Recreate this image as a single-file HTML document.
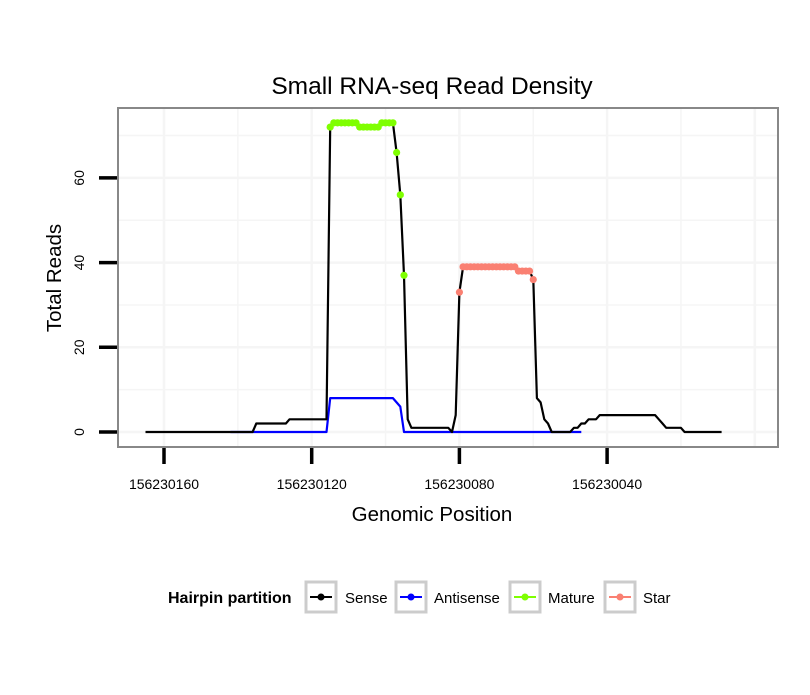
<!DOCTYPE html>
<html><head><meta charset="utf-8"><style>
body{margin:0;background:#fff;}
svg text{font-family:"Liberation Sans",sans-serif;}
</style></head><body>
<svg id="chart" width="810" height="690" xmlns="http://www.w3.org/2000/svg">
<rect width="810" height="690" fill="#fff"/>
<text x="432" y="94" font-size="24.5" text-anchor="middle">Small RNA-seq Read Density</text>
<g id="grid"></g>
<g id="series"></g>
<rect x="118" y="108" width="660" height="339" fill="none" stroke="#888" stroke-width="2"/>
<g id="axes"></g>
<text x="432" y="521" font-size="20.5" text-anchor="middle">Genomic Position</text>
<text x="61" y="278" font-size="20.5" text-anchor="middle" transform="rotate(-90 61 278)">Total Reads</text>
<g>
<text x="168" y="603" font-size="16" font-weight="bold">Hairpin partition</text>
<g>
<rect x="306" y="582" width="30" height="30" fill="#fff" stroke="#ccc" stroke-width="3"/>
<line x1="310" y1="597" x2="332" y2="597" stroke="#000" stroke-width="2"/><circle cx="321" cy="597" r="3.5" fill="#000"/>
<text x="345" y="603" font-size="15">Sense</text></g>
<g>
<rect x="396" y="582" width="30" height="30" fill="#fff" stroke="#ccc" stroke-width="3"/>
<line x1="400" y1="597" x2="422" y2="597" stroke="#00f" stroke-width="2"/><circle cx="411" cy="597" r="3.5" fill="#00f"/>
<text x="434" y="603" font-size="15">Antisense</text></g>
<g>
<rect x="510" y="582" width="30" height="30" fill="#fff" stroke="#ccc" stroke-width="3"/>
<line x1="514" y1="597" x2="536" y2="597" stroke="#7fff00" stroke-width="2"/><circle cx="525" cy="597" r="3.5" fill="#7fff00"/>
<text x="548" y="603" font-size="15">Mature</text></g>
<g>
<rect x="605" y="582" width="30" height="30" fill="#fff" stroke="#ccc" stroke-width="3"/>
<line x1="609" y1="597" x2="631" y2="597" stroke="#fa8072" stroke-width="2"/><circle cx="620" cy="597" r="3.5" fill="#fa8072"/>
<text x="643" y="603" font-size="15">Star</text></g>
</g>
</svg>
<script>
const startPos = 156230165;
const senseValues = [0,0,0,0,0,0,0,0,0,0,0,0,0,0,0,0,0,0,0,0,0,0,0,0,0,0,0,0,0,
0,2,2,2,2,2,2,2,2,2,3,3,3,3,3,3,3,3,3,3,3,
72,73,73,73,73,73,73,73,72,72,72,72,72,72,73,73,73,73,66,56,37,3,
1,1,1,1,1,1,1,1,1,1,1,0,4,33,
39,39,39,39,39,39,39,39,39,39,39,39,39,39,39,38,38,38,38,36,8,7,3,2,
0,0,0,0,0,0,1,1,2,2,3,3,3,
4,4,4,4,4,4,4,4,4,4,4,4,4,4,4,4,3,2,1,1,1,1,1,0,0,0,0,0,0,0,0,0,0,0];
const antiStartPos = 156230142;
const antisenseValues = [0,0,0,0,0,0,0,0,0,0,0,0,0,0,0,0,0,0,0,0,0,0,0,0,0,0,0,
8,8,8,8,8,8,8,8,8,8,8,8,8,8,8,8,8,8,7,6,
0,0,0,0,0,0,0,0,0,0,0,0,0,0,0,0,0,0,0,0,0,0,0,0,0,0,0,0,0,0,0,0,0,0,0,0,0,0,0,0,0,0,0,0,0,0,0,0,0];
const matureRange = [156230115, 156230095];
const starRange = [156230080, 156230060];
const xTicks = [156230160, 156230120, 156230080, 156230040];
const yTicks = [0, 20, 40, 60];

const NS = "http://www.w3.org/2000/svg";
const xScale = g => 164 + (156230160 - g) * 3.6925;
const yScale = v => 432 - v * 4.235;
function mk(tag, attrs, parent) { const e = document.createElementNS(NS, tag); for (const k in attrs) e.setAttribute(k, attrs[k]); parent.appendChild(e); return e; }
const grid = document.getElementById('grid'), axes = document.getElementById('axes'), series = document.getElementById('series');
mk('rect', {x:118, y:108, width:660, height:339, fill:'#fff'}, grid);
for (let v = -10; v <= 80; v += 10) { const y = yScale(v); if (y < 109 || y > 446) continue;
  const l = mk('line', {x1:118, x2:778, y1:y, y2:y, stroke:'#f5f5f5', 'stroke-width': v % 20 === 0 ? 2.5 : 1.5}, grid);
    }
for (let g = 156230180; g >= 156230000; g -= 20) { const x = xScale(g); if (x < 119 || x > 777) continue;
  const l = mk('line', {x1:x, x2:x, y1:108, y2:447, stroke:'#f5f5f5', 'stroke-width': g % 40 === 0 ? 2.5 : 1.5}, grid);
    }
yTicks.forEach(v => { const y = yScale(v);
  const t = mk('line', {x1:99, x2:117, y1:y, y2:y, stroke:'#000', 'stroke-width':3.5}, axes);
   
  const tx = mk('text', {x:84, y:y, 'font-size':14, 'text-anchor':'middle', transform:`rotate(-90 84 ${y})`}, axes);
  tx.textContent = v;   });
xTicks.forEach(g => { const x = xScale(g);
  const t = mk('line', {x1:x, x2:x, y1:448, y2:464, stroke:'#000', 'stroke-width':3.5}, axes);
   
  const tx = mk('text', {x:x, y:489, 'font-size':14, 'text-anchor':'middle'}, axes);
  tx.textContent = g;   });
function line(start, vals, color, name) {
  const pts = vals.map((v, i) => xScale(start - i).toFixed(1) + ',' + yScale(v).toFixed(1)).join(' ');
  const p = mk('polyline', {points:pts, fill:'none', stroke:color, 'stroke-width':2.2, 'stroke-linejoin':'round'}, series);
    }
line(antiStartPos, antisenseValues, '#0000ff', 'antisense-line');
line(startPos, senseValues, '#000000', 'sense-line');
function dots(range, color, name) {
  senseValues.forEach((v, i) => { const g = startPos - i; if (g > range[0] || g < range[1]) return;
    const c = mk('circle', {cx:xScale(g), cy:yScale(v), r:3.6, fill:color}, series);
      }); }
dots(matureRange, '#7fff00', 'mature-point');
dots(starRange, '#fa8072', 'star-point');
</script>
</body></html>
